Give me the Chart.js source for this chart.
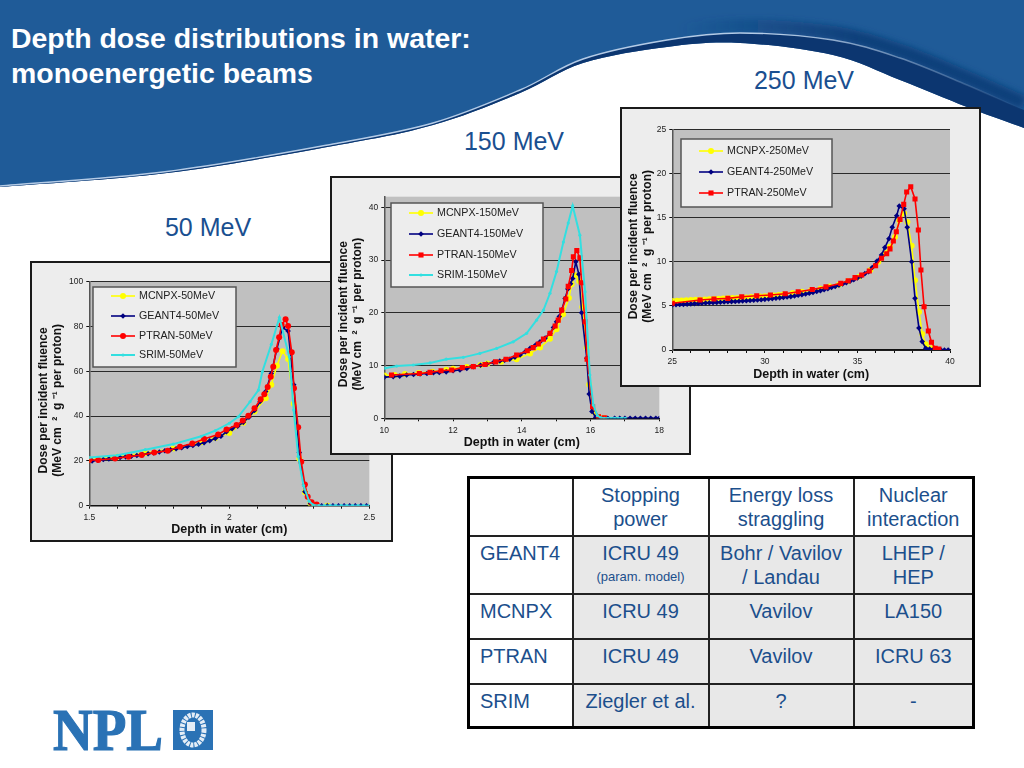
<!DOCTYPE html>
<html>
<head>
<meta charset="utf-8">
<title>Depth dose distributions in water</title>
<script src="https://cdn.jsdelivr.net/npm/chart.js@4/dist/chart.umd.min.js"></script>
<style>
    html, body { margin: 0; padding: 0; background: #fff; }
    body { width: 1024px; height: 768px; position: relative; overflow: hidden; font-family: "Liberation Sans", Arial, sans-serif; }
    #header { position: absolute; left: 0; top: 0; }
    #title { position: absolute; left: 11px; top: 21px; color: #fff; font-weight: bold; font-size: 28.45px; line-height: 35px; white-space: nowrap; }
    .energy { position: absolute; color: #1a4f90; font-size: 25px; line-height: 30px; width: 140px; text-align: center; }
    .plot { position: absolute; border: 2px solid #1a1a1a; background: #ededed; box-sizing: border-box; }
    .plot canvas { display: block; }
    #params { position: absolute; left: 467px; top: 476px; width: 505px; height: 250px; border-collapse: collapse; table-layout: fixed;
        color: #1c4f8c; font-size: 20px; line-height: 24px; border: 3px solid #000; }
    #params td { border: 2px solid #222; text-align: center; vertical-align: top; padding: 4px 2px 0; background: #e8e8e8; }
    #params tr:first-child td, #params td:first-child { background: #fff; }
    #params td:first-child { text-align: left; padding-left: 10px; }
    #params small { font-size: 13px; display: block; }
    #logo { position: absolute; left: 50px; top: 706px; }
</style>
</head>
<body>
<svg id="header" width="1024" height="192">
    <defs>
        <filter id="soft" x="-5%" y="-50%" width="110%" height="200%"><feGaussianBlur stdDeviation="3"/></filter>
        <linearGradient id="shadeFade" gradientUnits="userSpaceOnUse" x1="680" y1="0" x2="860" y2="0">
            <stop offset="0" stop-color="#0f3f7a" stop-opacity="0"/>
            <stop offset="1" stop-color="#0f3f7a" stop-opacity="1"/>
        </linearGradient>
        <linearGradient id="lightFade" gradientUnits="userSpaceOnUse" x1="780" y1="0" x2="1024" y2="0">
            <stop offset="0" stop-color="#b4cbe6" stop-opacity="1"/>
            <stop offset="1" stop-color="#b4cbe6" stop-opacity="0"/>
        </linearGradient>
    </defs>
    <path id="hdrFill" fill="#1f5b98"/>
    <path id="hdrShade" fill="none" stroke="url(#shadeFade)" stroke-width="14" filter="url(#soft)"/>
    <path id="hdrBand" fill="#0c3670"/>
    <path id="hdrLight" fill="none" stroke="url(#lightFade)" stroke-width="1.4"/>
</svg>
<div id="title">Depth dose distributions in water:<br>monoenergetic beams</div>

<div class="energy" style="left:138px;top:212px">50 MeV</div>
<div class="energy" style="left:444px;top:126px">150 MeV</div>
<div class="energy" style="left:734px;top:65px">250 MeV</div>

<div class="plot" id="frame50"><canvas id="chart50"></canvas></div>
<div class="plot" id="frame150"><canvas id="chart150"></canvas></div>
<div class="plot" id="frame250"><canvas id="chart250"></canvas></div>

<table id="params">
    <colgroup><col style="width:104px"><col style="width:136px"><col style="width:145px"><col style="width:120px"></colgroup>
    <tr style="height:58px"><td></td><td>Stopping<br>power</td><td>Energy loss<br>straggling</td><td>Nuclear<br>interaction</td></tr>
    <tr style="height:58px"><td>GEANT4</td><td>ICRU 49<small>(param. model)</small></td><td>Bohr / Vavilov<br>/ Landau</td><td>LHEP /<br>HEP</td></tr>
    <tr style="height:45px"><td>MCNPX</td><td>ICRU 49</td><td>Vavilov</td><td>LA150</td></tr>
    <tr style="height:45px"><td>PTRAN</td><td>ICRU 49</td><td>Vavilov</td><td>ICRU 63</td></tr>
    <tr style="height:44px"><td>SRIM</td><td>Ziegler et al.</td><td>?</td><td>-</td></tr>
</table>

<svg id="logo" width="170" height="50">
    <text x="3" y="44" fill="#2a72b5" stroke="#2a72b5" stroke-width="1.2" font-family="Liberation Serif" font-weight="bold" font-size="60" textLength="110" lengthAdjust="spacingAndGlyphs">NPL</text>
    <rect x="123" y="4" width="40" height="40" fill="#2a72b5"/>
    <ellipse cx="143" cy="24" rx="11" ry="15" fill="none" stroke="#e4edf6" stroke-width="5" stroke-dasharray="3 1"/>
    <rect x="137" y="16" width="8" height="9" fill="#e4edf6"/>
</svg>

<script>
// 50 MeV
const mcnpx50X = [1.5, 1.6, 1.7, 1.8, 1.9, 1.95, 2.0, 2.05, 2.09, 2.13, 2.15, 2.17, 2.19, 2.21, 2.23, 2.25, 2.27, 2.29, 2.31, 2.35];
const mcnpx50Y = [20.5, 21.8, 23.5, 25.5, 28.3, 30.2, 32.5, 37, 42, 48, 54, 62.5, 69, 65.5, 45.5, 21, 6, 1, 0.2, 0];
const geant50X = [1.51, 1.53, 1.55, 1.57, 1.59, 1.61, 1.63, 1.65, 1.67, 1.69, 1.71, 1.73, 1.75, 1.77, 1.79, 1.81, 1.83, 1.85, 1.87, 1.89,
    1.91, 1.93, 1.95, 1.97, 1.99, 2.01, 2.03, 2.05, 2.07, 2.09, 2.11, 2.13, 2.15, 2.17, 2.19, 2.21, 2.23, 2.25, 2.27, 2.29,
    2.31, 2.33, 2.35, 2.37, 2.39, 2.41, 2.43, 2.45, 2.47, 2.49];
const geant50Y = [20, 20.3, 20.6, 20.9, 21.2, 21.5, 21.8, 22.1, 22.4, 22.8, 23.2, 23.6, 24, 24.5, 25, 25.4, 25.9, 26.4, 26.9, 27.4,
    28.1, 29, 30, 31, 33, 34.4, 35.5, 37.2, 39.5, 42.5, 46.5, 51, 59, 70, 79.5, 78, 54, 23.7, 6.2, 1,
    0.2, 0, 0, 0, 0, 0, 0, 0, 0, 0];
const ptran50X = [1.5, 1.532, 1.592, 1.64, 1.687, 1.732, 1.78, 1.824, 1.868, 1.91, 1.96, 1.99, 2.026, 2.048, 2.068, 2.09, 2.112, 2.125,
    2.137, 2.148, 2.157, 2.167, 2.178, 2.187, 2.201, 2.21, 2.223, 2.231, 2.246, 2.257, 2.27, 2.28, 2.294, 2.312];
const ptran50Y = [20.4, 20.4, 21.1, 21.9, 22.6, 23.7, 24.5, 26.3, 27.8, 29.8, 31.8, 34, 36, 38, 40.2, 43.5, 47.5, 49.7,
    53, 57.6, 62, 69.5, 75.2, 80.7, 83.2, 80.2, 68.5, 52.4, 35, 19.6, 9.5, 4, 1.5, 0.5];
const srim50X = [1.5, 1.6, 1.7, 1.8, 1.9, 1.95, 2.0, 2.032, 2.074, 2.104, 2.118, 2.15, 2.179, 2.214, 2.23, 2.246, 2.265, 2.285, 2.3, 2.32, 2.34, 2.36, 2.38, 2.4, 2.42, 2.44, 2.46, 2.48, 2.5];
const srim50Y = [21.5, 22.5, 25, 27.5, 31, 33.5, 36.8, 39.7, 46.4, 51.6, 59.8, 72, 84, 66.5, 42.7, 22, 9, 2, 0.3, 0, 0, 0, 0, 0, 0, 0, 0, 0, 0];

// 150 MeV
const mcnpx150X = [10, 10.3, 10.6, 11, 11.4, 11.8, 12, 12.4, 12.8, 13, 13.4, 13.85, 14.24, 14.53, 14.82, 15.01, 15.2, 15.37, 15.45, 15.55, 15.67, 15.76, 15.89, 15.96, 16.1, 16.25, 16.4];
const mcnpx150Y = [8.1, 8.2, 8.4, 8.6, 8.8, 9.2, 9.4, 9.7, 10.1, 10.4, 10.7, 11.2, 12.3, 13.4, 15.1, 16.9, 19.7, 22.8, 25.4, 27.1, 26, 21.1, 13.4, 6.4, 1.2, 0.2, 0];
const geant150X = [10, 10.26, 10.45, 10.65, 10.85, 11.04, 11.24, 11.43, 11.6, 11.8, 12, 12.2, 12.4, 12.59, 12.8, 12.98, 13.18, 13.36, 13.5, 13.65, 13.8, 13.95, 14.1, 14.24, 14.4, 14.53, 14.68, 14.82, 14.92, 15.01, 15.09, 15.16, 15.26, 15.34, 15.42, 15.48, 15.57, 15.66, 15.74, 15.89, 15.96, 16.04, 16.15, 16.3, 16.5, 16.7, 16.85, 17, 17.15, 17.3, 17.45, 17.6, 17.75, 17.9, 18];
const geant150Y = [7.8, 7.9, 8, 8.2, 8.3, 8.4, 8.5, 8.65, 8.7, 8.8, 9, 9.15, 9.45, 9.8, 10.05, 10.3, 10.6, 10.85, 11, 11.2, 11.6, 12, 12.6, 13.25, 13.9, 14.5, 15.2, 16.1, 17.2, 18.3, 19.3, 20.5, 22.7, 24.5, 25.5, 26.5, 29.66, 27.3, 20, 11.4, 4.6, 1.3, 0.2, 0, 0, 0, 0, 0, 0, 0, 0, 0, 0, 0, 0];
const ptran150X = [10.21, 11.02, 11.33, 11.65, 11.96, 12.27, 12.59, 12.93, 13.24, 13.54, 13.85, 14.16, 14.33, 14.48, 14.63, 14.82, 14.97, 15.06, 15.16, 15.28, 15.35, 15.45, 15.5, 15.6, 15.69, 15.74, 15.84, 15.9, 16.06, 16.23, 16.4];
const ptran150Y = [8.2, 8.5, 8.7, 9, 9.15, 9.6, 9.8, 10.2, 10.7, 11.2, 12, 12.8, 13.4, 14.07, 15, 16.1, 17.5, 18.6, 20.5, 22.6, 25, 28, 30.6, 31.8, 30.4, 25.7, 18.3, 11.2, 2.2, 0.3, 0.1];
const srim150X = [10.02, 10.36, 10.84, 11.33, 11.8, 12.3, 12.78, 13.27, 13.75, 14.14, 14.43, 14.63, 14.82, 15.01, 15.21, 15.35, 15.48, 15.69, 15.84, 15.98, 16.08, 16.2, 16.3, 16.4, 16.5, 16.6, 16.7, 16.8, 16.9, 17.02];
const srim150Y = [9.5, 9.9, 10.1, 10.5, 11.2, 11.55, 12.3, 13.25, 14.5, 16.1, 18.6, 20.5, 23.7, 27.8, 33.4, 37, 40.25, 34.7, 24, 8.2, 2.5, 0.5, 0.1, 0, 0, 0, 0, 0, 0, 0];

// 250 MeV
const mcnpx250X = [25, 25.25, 25.5, 25.75, 26, 26.25, 26.5, 26.75, 27, 27.25, 27.5, 27.75, 28, 28.25, 28.5, 28.75, 29, 29.25, 29.5, 29.75, 30, 30.25, 30.5, 30.75, 31, 31.5, 32, 32.5, 33, 33.5, 34, 34.5, 35.1, 35.7, 36.13, 36.5, 36.76, 37.03, 37.26, 37.52, 37.7, 37.93, 38.11, 38.33, 38.5, 38.69, 39];
const mcnpx250Y = [5.55, 5.58, 5.6, 5.63, 5.65, 5.68, 5.7, 5.73, 5.75, 5.78, 5.8, 5.83, 5.85, 5.88, 5.9, 5.93, 5.95, 5.99, 6.02, 6.06, 6.1, 6.14, 6.18, 6.24, 6.3, 6.45, 6.6, 6.78, 6.95, 7.2, 7.4, 7.8, 8.3, 9.06, 10, 10.95, 11.7, 12.8, 14.7, 15.5, 14.5, 11.8, 7.9, 4.3, 1.8, 0.65, 0.2];
const geant250X = [25, 25.2, 25.4, 25.6, 25.8, 26, 26.2, 26.4, 26.6, 26.8, 27, 27.2, 27.4, 27.6, 27.8, 28, 28.2, 28.4, 28.6, 28.8, 29, 29.2, 29.4, 29.6, 29.8,
    30, 30.2, 30.4, 30.6, 30.8, 31, 31.2, 31.4, 31.6, 31.8, 32, 32.2, 32.4, 32.6, 32.8, 33, 33.2, 33.4, 33.6, 33.8, 34, 34.2, 34.4, 34.6, 34.8,
    35, 35.2, 35.4, 35.6, 35.8, 36.06, 36.3, 36.48, 36.7, 36.88, 37.12, 37.26, 37.52, 37.69, 37.93, 38.11, 38.32, 38.5, 38.69, 38.9, 39.1, 39.3, 39.5, 39.7, 39.9];
const geant250Y = [5.1, 5.12, 5.15, 5.17, 5.2, 5.22, 5.25, 5.27, 5.3, 5.32, 5.35, 5.37, 5.39, 5.41, 5.43, 5.46, 5.48, 5.5, 5.53, 5.55, 5.58, 5.61, 5.64, 5.67, 5.7,
    5.74, 5.78, 5.82, 5.86, 5.91, 5.96, 6, 6.05, 6.12, 6.2, 6.27, 6.35, 6.43, 6.52, 6.62, 6.72, 6.82, 6.95, 7.08, 7.2, 7.33, 7.47, 7.62, 7.78, 7.97,
    8.16, 8.37, 8.65, 8.87, 9.35, 10.08, 10.76, 11.6, 12.6, 13.9, 15.2, 16.3, 16, 13.9, 10, 5.85, 2.5, 0.95, 0.2, 0.1, 0.05, 0.03, 0.02, 0, 0];
const ptran250X = [25, 26.5, 27.25, 28, 28.75, 29.56, 30.3, 31.1, 31.8, 32.56, 33.3, 34.1, 34.5, 34.87, 35.23, 35.64, 35.98, 36.3, 36.58, 36.76, 36.94, 37.1, 37.3, 37.5, 37.66, 37.88, 38.11, 38.29, 38.43, 38.6, 38.83, 39, 39.2, 39.4];
const ptran250Y = [5.3, 5.66, 5.78, 5.85, 6.04, 6.15, 6.23, 6.38, 6.6, 6.85, 7.15, 7.55, 7.85, 8.2, 8.5, 8.95, 9.55, 10.4, 10.9, 11.45, 12.35, 13.4, 14.8, 16.5, 17.9, 18.5, 17.1, 13.6, 9.06, 4.9, 2.15, 0.87, 0.2, 0.1];

const MARKS = {
    mcnpx: { color: '#ffff00', style: 'circle', radius: 3, order: 4, line: 1.6 },
    geant: { color: '#000080', style: 'rectRot', radius: 2.8, order: 3, line: 1.6 },
    ptran: { color: '#ff0000', style: 'rect', radius: 3.6, order: 2, line: 1.6 },
    srim: { color: '#33dfe0', style: 'circle', radius: 1.6, order: 1, line: 2 }
};

function series(label, kind, xs, ys, override) {
    const m = { ...MARKS[kind], ...override };
    return {
        label: label,
        data: xs.map((x, i) => ({ x: x, y: ys[i] })),
        borderColor: m.color,
        backgroundColor: m.color,
        borderWidth: m.line,
        pointStyle: m.style,
        pointRadius: m.radius,
        pointBorderWidth: 0,
        order: m.order,
        tension: 0
    };
}

// Шапка слайда: нижний край задан опорными точками, через них идёт гладкая кривая
const edge = [[-40, 190], [0, 187], [167, 173], [333, 146], [433, 125], [520, 93], [583, 63], [667, 47], [740, 43], [833, 55], [900, 80], [967, 107], [1024, 128], [1064, 142]];
const bandDepth = [0, 1, 1.5, 2, 2, 3, 4, 7, 10, 15, 22, 22, 18, 18];

function curve(pts) {
    let d = '';
    for (let i = 1; i < pts.length - 2; i++) {
        const [p0, p1, p2, p3] = [pts[i - 1], pts[i], pts[i + 1], pts[i + 2]];
        if (i === 1) d += `M${p1[0]} ${p1[1]}`;
        d += `C${p1[0] + (p2[0] - p0[0]) / 6} ${p1[1] + (p2[1] - p0[1]) / 6} ${p2[0] - (p3[0] - p1[0]) / 6} ${p2[1] - (p3[1] - p1[1]) / 6} ${p2[0]} ${p2[1]}`;
    }
    return d;
}

function drawHeader() {
    const inner = edge.map((p, i) => [p[0], p[1] - bandDepth[i]]);
    const lower = curve(edge);
    const upper = curve(inner);
    document.getElementById('hdrFill').setAttribute('d', lower + 'L1024 0L0 0Z');
    document.getElementById('hdrLight').setAttribute('d', upper);
    document.getElementById('hdrShade').setAttribute('d', curve(inner.slice(5).map(p => [p[0], p[1] - 7])));
    // полоса между светлой линией и краем
    const back = edge.slice().reverse();
    document.getElementById('hdrBand').setAttribute('d', upper + 'L1024 128' + curve(back).replace(/^M[^C]+/, '') + 'Z');
}
drawHeader();

// Серый фон области графика и легенда поверх линий сетки
const plotFrame = {
    id: 'plotFrame',
    beforeDraw(chart) {
        const a = chart.chartArea, ctx = chart.ctx;
        ctx.save();
        ctx.fillStyle = '#c0c0c0';
        ctx.fillRect(a.left, a.top, a.right - a.left, a.bottom - a.top);
        ctx.restore();
    },
    afterDraw(chart, args, opts) {
        const ctx = chart.ctx, box = opts.box;
        ctx.save();
        ctx.fillStyle = '#ededed';
        ctx.strokeStyle = '#555';
        ctx.lineWidth = 1.5;
        ctx.fillRect(box.x, box.y, box.w, box.h);
        ctx.strokeRect(box.x, box.y, box.w, box.h);
        ctx.font = '10.7px "Liberation Sans"';
        ctx.textBaseline = 'middle';
        chart.data.datasets.forEach((ds, i) => {
            const y = opts.rows[i];
            ctx.strokeStyle = ds.borderColor;
            ctx.lineWidth = ds.borderWidth;
            ctx.beginPath();
            ctx.moveTo(opts.lineX, y);
            ctx.lineTo(opts.lineX + 24, y);
            ctx.stroke();
            ctx.fillStyle = ds.backgroundColor;
            Chart.helpers.drawPoint(ctx, { pointStyle: ds.pointStyle, radius: ds.pointRadius, borderWidth: 0 }, opts.lineX + 12, y);
            ctx.fillStyle = '#222';
            ctx.fillText(ds.label, opts.lineX + 28, y + 0.5);
        });
        ctx.restore();
    }
};

// frame и plot заданы в координатах страницы
function makeChart(id, frameId, cfg) {
    const canvas = document.getElementById(id);
    const frame = document.getElementById(frameId);
    const ox = cfg.frame.left + 2, oy = cfg.frame.top + 2;
    const w = cfg.frame.right - cfg.frame.left - 4, h = cfg.frame.bottom - cfg.frame.top - 4;
    frame.style.left = cfg.frame.left + 'px';
    frame.style.top = cfg.frame.top + 'px';
    frame.style.width = w + 4 + 'px';
    frame.style.height = h + 4 + 'px';
    canvas.width = w;
    canvas.height = h;
    return new Chart(canvas, {
        type: 'line',
        data: { datasets: cfg.datasets },
        plugins: [plotFrame],
        options: {
            responsive: false,
            animation: false,
            layout: { padding: { top: cfg.plot.top - oy, right: ox + w - cfg.plot.right, left: 0, bottom: 0 } },
            plugins: {
                legend: { display: false },
                tooltip: { enabled: false },
                plotFrame: {
                    box: { x: cfg.legend.x - ox, y: cfg.legend.y - oy, w: cfg.legend.w, h: cfg.legend.h },
                    rows: cfg.legend.rows.map(r => r - oy),
                    lineX: cfg.legend.lineX - ox
                }
            },
            scales: {
                x: {
                    type: 'linear',
                    min: cfg.xMin,
                    max: cfg.xMax,
                    afterFit: s => { s.height = oy + h - cfg.plot.bottom; },
                    afterBuildTicks: s => { s.ticks = cfg.xTicks.map(v => ({ value: v })); },
                    grid: { drawOnChartArea: false, color: '#111', tickLength: 3, tickColor: '#111' },
                    border: { color: '#111', width: 1.5 },
                    ticks: {
                        autoSkip: false,
                        maxRotation: 0,
                        padding: 4,
                        color: '#222',
                        font: { family: 'Liberation Sans', size: 8.5 },
                        callback: v => (cfg.xLabels.includes(v) ? String(v) : '')
                    },
                    title: {
                        display: true,
                        text: 'Depth in water (cm)',
                        color: '#111',
                        padding: { top: 2, bottom: 3 },
                        font: { family: 'Liberation Sans', size: 12.5, weight: 'bold' }
                    }
                },
                y: {
                    min: 0,
                    max: cfg.yMax,
                    afterFit: s => { s.width = cfg.plot.left - ox; },
                    afterBuildTicks: s => { s.ticks = cfg.yTicks.map(v => ({ value: v })); },
                    grid: { color: '#2a2a2a', lineWidth: 1, tickLength: 3, tickColor: '#111' },
                    border: { color: '#555', width: 1.5 },
                    ticks: {
                        padding: 3,
                        color: '#222',
                        font: { family: 'Liberation Sans', size: 8.5 }
                    },
                    title: {
                        display: true,
                        // пробелы в конце сдвигают подпись вниз, как на оригинале
                        text: ['Dose per incident fluence    ', '(MeV cm  \u00b2  g \u207b\u00b9 per proton)    '],
                        color: '#111',
                        padding: { top: 4, bottom: 0 },
                        font: { family: 'Liberation Sans', size: 12, weight: 'bold', lineHeight: 1.22 }
                    }
                }
            }
        }
    });
}

makeChart('chart50', 'frame50', {
    frame: { left: 30, top: 261, right: 393, bottom: 542 },
    plot: { left: 89.3, right: 369.3, top: 281.7, bottom: 505.7 },
    xMin: 1.5, xMax: 2.5,
    xTicks: [1.5, 1.6, 1.7, 1.8, 1.9, 2, 2.1, 2.2, 2.3, 2.4, 2.5],
    xLabels: [1.5, 2, 2.5],
    yMax: 100,
    yTicks: [0, 20, 40, 60, 80, 100],
    legend: { x: 93, y: 287, w: 143, h: 80, rows: [296, 316, 336, 355], lineX: 111 },
    datasets: [
        series('MCNPX-50MeV', 'mcnpx', mcnpx50X, mcnpx50Y),
        series('GEANT4-50MeV', 'geant', geant50X, geant50Y),
        series('PTRAN-50MeV', 'ptran', ptran50X, ptran50Y, { style: 'circle', radius: 3 }),
        series('SRIM-50MeV', 'srim', srim50X, srim50Y)
    ]
});

makeChart('chart150', 'frame150', {
    frame: { left: 330, top: 176, right: 691, bottom: 455 },
    plot: { left: 384.3, right: 659.3, top: 196.7, bottom: 418.3 },
    xMin: 10, xMax: 18,
    xTicks: [10, 11, 12, 13, 14, 15, 16, 17, 18],
    xLabels: [10, 12, 14, 16, 18],
    yMax: 42,
    yTicks: [0, 10, 20, 30, 40],
    legend: { x: 391, y: 203, w: 152, h: 84, rows: [213, 234, 255, 275], lineX: 409 },
    datasets: [
        series('MCNPX-150MeV', 'mcnpx', mcnpx150X, mcnpx150Y),
        series('GEANT4-150MeV', 'geant', geant150X, geant150Y),
        series('PTRAN-150MeV', 'ptran', ptran150X, ptran150Y),
        series('SRIM-150MeV', 'srim', srim150X, srim150Y)
    ]
});

makeChart('chart250', 'frame250', {
    frame: { left: 620, top: 107, right: 981, bottom: 387 },
    plot: { left: 672.3, right: 950, top: 129.3, bottom: 350 },
    xMin: 25, xMax: 40,
    xTicks: [25, 26, 27, 28, 29, 30, 31, 32, 33, 34, 35, 36, 37, 38, 39, 40],
    xLabels: [25, 30, 35, 40],
    yMax: 25,
    yTicks: [0, 5, 10, 15, 20, 25],
    legend: { x: 681, y: 139, w: 151, h: 68, rows: [151, 172, 193], lineX: 699 },
    datasets: [
        series('MCNPX-250MeV', 'mcnpx', mcnpx250X, mcnpx250Y),
        series('GEANT4-250MeV', 'geant', geant250X, geant250Y),
        series('PTRAN-250MeV', 'ptran', ptran250X, ptran250Y)
    ]
});
</script>
</body>
</html>
